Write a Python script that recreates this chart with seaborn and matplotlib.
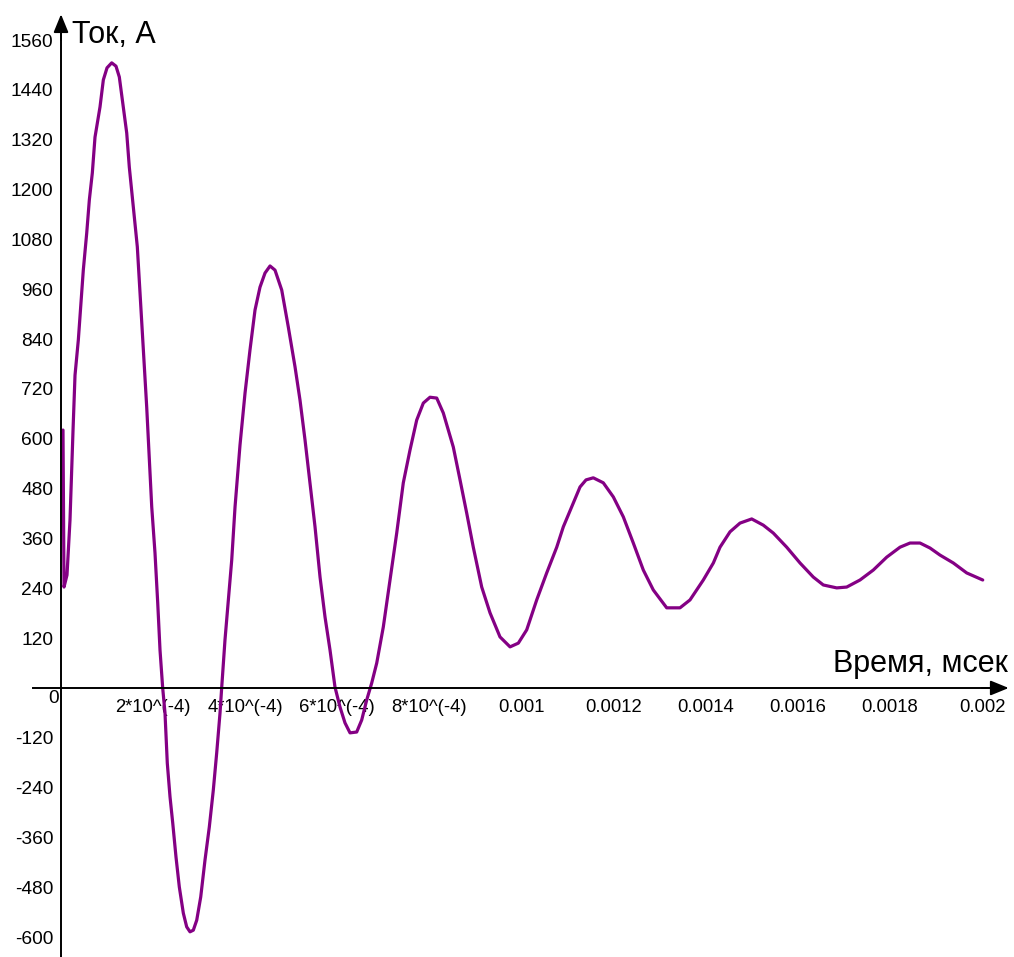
# IMPORTS
import numpy as np
import pandas as pd
import seaborn as sns
import matplotlib.pyplot as plt

# DATA (time in microseconds, current in amperes)
time_us = [4.3, 6.5, 13.0, 19.5, 26.1, 30.4, 37.6, 43.4, 48.4, 55.8,
           61.5, 68.0, 73.8, 84.7, 91.9, 99.9, 110.1, 119.4, 126.6, 135.3,
           142.7, 148.3, 157.0, 165.7, 171.6, 177.4, 186.1, 191.8, 197.0, 204.1,
           210.0, 215.0, 220.8, 225.8, 230.8, 236.7, 242.6, 249.7, 256.9, 265.6,
           272.9, 280.1, 287.3, 294.7, 303.4, 312.7, 322.0, 330.7, 338.1, 345.3,
           349.0, 356.1, 363.3, 370.7, 377.9, 385.0, 388.7, 399.6, 410.4, 421.3,
           432.1, 443.0, 453.9, 464.7, 479.3, 493.6, 508.2, 519.0, 529.9, 540.7,
           551.6, 562.5, 573.3, 584.2, 595.0, 605.9, 616.7, 627.6, 642.1, 653.0,
           663.8, 674.7, 685.6, 699.9, 714.5, 729.0, 743.3, 757.9, 772.4, 786.8,
           801.3, 815.9, 830.2, 851.9, 866.5, 881.0, 895.3, 913.6, 931.6, 953.3,
           975.1, 993.1, 1011.3, 1033.0, 1054.7, 1076.5, 1090.8, 1109.0, 1127.1, 1140.1,
           1155.9, 1177.6, 1199.4, 1221.1, 1242.8, 1264.5, 1286.2, 1315.3, 1344.2, 1365.9,
           1394.8, 1416.6, 1431.1, 1452.8, 1474.5, 1499.9, 1525.1, 1546.8, 1575.9, 1604.8,
           1633.7, 1655.4, 1684.5, 1706.2, 1735.1, 1764.0, 1793.1, 1822.0, 1843.7, 1865.4,
           1887.1, 1908.8, 1937.7, 1966.8, 2001.6]
current = [621, 243, 272, 404, 621, 753, 838, 927, 1006, 1095,
           1175, 1240, 1326, 1399, 1464, 1493, 1505, 1497, 1471, 1399,
           1336, 1254, 1158, 1062, 951, 838, 676, 549, 436, 325,
           205, 91, 0, -60, -181, -262, -325, -407, -479, -542,
           -575, -587, -583, -559, -503, -414, -335, -246, -156, -60,
           2, 116, 212, 308, 436, 532, 585, 710, 814, 910,
           965, 999, 1016, 1006, 958, 869, 773, 693, 597, 494,
           388, 267, 171, 91, 2, -46, -84, -108, -106, -77,
           -29, 12, 60, 147, 260, 373, 494, 573, 645, 686,
           700, 698, 662, 580, 501, 421, 339, 243, 181, 123,
           99, 108, 140, 212, 277, 339, 388, 436, 484, 501,
           506, 494, 460, 412, 349, 284, 236, 193, 193, 212,
           260, 301, 339, 376, 397, 407, 392, 373, 339, 301,
           267, 248, 241, 243, 260, 284, 315, 339, 349, 349,
           337, 320, 301, 277, 260]

x_tick_pos = [200, 400, 600, 800, 1000, 1200, 1400, 1600, 1800, 2000]
x_tick_labels = ['2*10^(-4)', '4*10^(-4)', '6*10^(-4)', '8*10^(-4)', '0.001',
                 '0.0012', '0.0014', '0.0016', '0.0018', '0.002']
x_tick_marks = [260.6, 521.2, 781.8, 1042.4, 1303.0, 1563.6, 1824.2]
y_tick_pos = [-600, -480, -360, -240, -120, 120, 240, 360, 480, 600, 720,
              840, 960, 1080, 1200, 1320, 1440, 1560]

df = pd.DataFrame({'t': time_us, 'i': current})

# BUILD GRAPH
sns.set_style('white')
plt.rcParams['font.family'] = ['Liberation Sans', 'DejaVu Sans']
plt.rcParams['text.color'] = 'black'
plt.rcParams['xtick.color'] = 'black'
plt.rcParams['ytick.color'] = 'black'

fig = plt.figure(figsize=(10.14, 9.57), dpi=100)
ax = fig.add_axes([0, 0, 1, 1])

sns.lineplot(data=df, x='t', y='i', ax=ax, color='#840084', linewidth=2.3,
             sort=False, estimator=None)

ax.set_xlim(-132.5, 2069.5)
ax.set_ylim(-647.6, 1656.3)

for side in ['top', 'right']:
    ax.spines[side].set_visible(False)
ax.spines['left'].set_position(('data', 0))
ax.spines['bottom'].set_position(('data', 0))
ax.spines['left'].set_bounds(-700, 1600)
ax.spines['bottom'].set_bounds(-61, 2040)
for side in ['left', 'bottom']:
    ax.spines[side].set_linewidth(1.4)
    ax.spines[side].set_color('black')

# arrow heads at axis ends
arrow = dict(arrowstyle='-|>,head_length=1.1,head_width=0.45', color='black',
             lw=1.4, shrinkA=0, shrinkB=0, mutation_scale=10)
ax.annotate('', xy=(2058, 0), xytext=(2000, 0), arrowprops=arrow)
ax.annotate('', xy=(0, 1622), xytext=(0, 1560), arrowprops=arrow)

ax.set_xticks(x_tick_pos)
ax.set_xticklabels(x_tick_labels)
ax.set_xticks(x_tick_marks, minor=True)
ax.tick_params(axis='x', which='major', length=0, pad=8, labelsize=13.3,
               colors='black', labelcolor='black')
ax.tick_params(axis='x', which='minor', length=8, width=1.2, direction='inout', colors='black')

ax.set_yticks(y_tick_pos)
ax.set_yticklabels([str(v) for v in y_tick_pos])
ax.tick_params(axis='y', which='major', length=7, width=1.2, direction='inout',
               pad=2, labelsize=13.8, colors='black', labelcolor='black')

ax.set_xlabel('')
ax.set_ylabel('')
ax.grid(False)

ax.text(-16, -5, '0', ha='center', va='top', fontsize=13.8, color='black')
ax.text(24, 1553, 'Ток, А', ha='left', va='baseline', fontsize=22, color='black')
ax.text(2056, 38, 'Время, мсек', ha='right', va='baseline', fontsize=22, color='black')

plt.savefig('out.png', dpi=100)
